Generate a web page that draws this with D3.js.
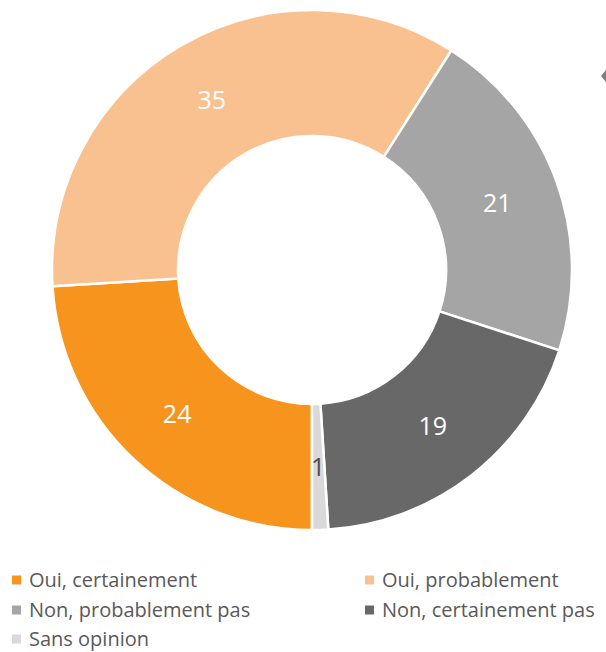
<!DOCTYPE html>
<html>
<head>
<meta charset="utf-8">
<script src="https://cdn.jsdelivr.net/npm/d3@7"></script>
<style>
  body { margin: 0; background: #fff; }
  svg { display: block; font-family: "Open Sans", "Noto Sans", sans-serif; }
</style>
</head>
<body>
<div id="chart"></div>
<script>
// Data
const categories = ["Oui, certainement", "Oui, probablement", "Non, probablement pas", "Non, certainement pas", "Sans opinion"];
const values = [24, 35, 21, 19, 1];
const colors = ["#F7941D", "#F9C18F", "#A5A5A5", "#686868", "#D9D9D9"];
const labelColors = ["#fff", "#fff", "#fff", "#fff", "#505050"];

const width = 606, height = 652;
const cx = 312, cy = 270;
const outerR = 260, innerR = 134;

const svg = d3.select("#chart").append("svg")
    .attr("width", width)
    .attr("height", height);

const data = categories.map((c, i) => ({ name: c, value: values[i], color: colors[i], label: labelColors[i] }));

// Excel starts the first slice at the bottom here
const pie = d3.pie()
    .value(d => d.value)
    .sort(null)
    .startAngle(Math.PI)
    .endAngle(3 * Math.PI);

const arc = d3.arc().innerRadius(innerR).outerRadius(outerR);
const labelArc = d3.arc().innerRadius((innerR + outerR) / 2).outerRadius((innerR + outerR) / 2);

const g = svg.append("g").attr("transform", `translate(${cx},${cy})`);

g.selectAll("path")
    .data(pie(data))
    .join("path")
    .attr("d", arc)
    .attr("fill", d => d.data.color)
    .attr("stroke", "#fff")
    .attr("stroke-width", 2.5)
    .attr("stroke-linejoin", "round");

g.selectAll("text")
    .data(pie(data))
    .join("text")
    .attr("transform", d => `translate(${labelArc.centroid(d)})`)
    .attr("text-anchor", "middle")
    .attr("dy", "0.36em")
    .attr("fill", d => d.data.label)
    .attr("font-size", 25)
    .text(d => d.data.value);

// small marker cut off at the right edge
svg.append("path")
    .attr("d", "M601,76 L606,70 L606,82 Z")
    .attr("fill", "#7f7f7f");

// Legend
const legendCols = [12, 365];
const legendRows = [580, 610, 639];
const legend = svg.append("g")
    .selectAll("g")
    .data(data)
    .join("g")
    .attr("transform", (d, i) => `translate(${legendCols[i % 2]},${legendRows[Math.floor(i / 2)]})`);

legend.append("rect")
    .attr("x", 0)
    .attr("y", -4.5)
    .attr("width", 9)
    .attr("height", 9)
    .attr("fill", d => d.color);

legend.append("text")
    .attr("x", 17)
    .attr("dy", "0.34em")
    .attr("fill", "#595959")
    .attr("font-size", 20)
    .text(d => d.name);
</script>
</body>
</html>
